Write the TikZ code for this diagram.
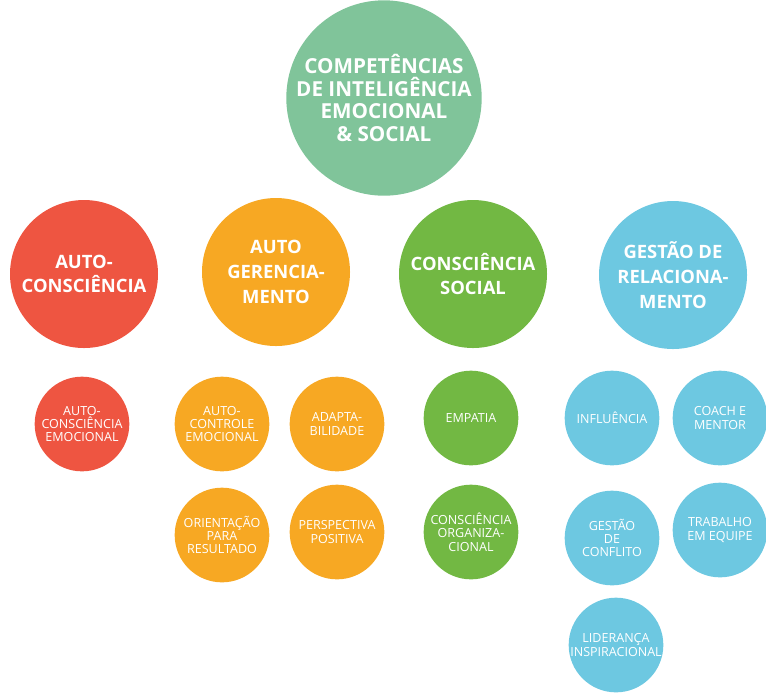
\documentclass[tikz,border=0pt]{standalone}
\usepackage{fontspec}
\setmainfont{Open Sans}
\definecolor{topgreen}{HTML}{80C49A}
\definecolor{compred}{HTML}{EE5541}
\definecolor{comporange}{HTML}{F7A823}
\definecolor{compgreen}{HTML}{72B843}
\definecolor{compblue}{HTML}{6DC8E1}
\tikzset{
  bubble/.style={circle, inner sep=0pt, text=white, align=center},
  topbubble/.style={bubble, fill=topgreen, minimum size=130pt, font=\bfseries\fontsize{15.5}{17}\selectfont},
  bigbubble/.style={bubble, minimum size=111pt, font=\bfseries\fontsize{13.8}{18.5}\selectfont},
  smallbubble/.style={bubble, minimum size=71pt, font=\fontsize{9.4}{10}\selectfont}
}
\begin{document}
\begin{tikzpicture}[x=0.75pt, y=-0.75pt]
  \useasboundingbox (0,0) rectangle (766,694);
  % top
  \node[topbubble] (ie) at (384,98) {COMPETÊNCIAS\\DE INTELIGÊNCIA\\EMOCIONAL\\\& SOCIAL};
  % main groups
  \node[bigbubble, fill=compred] (autoc) at (84,274) {AUTO-\\CONSCIÊNCIA};
  \node[bigbubble, fill=comporange] (autog) at (276,272) {AUTO\\GERENCIA-\\MENTO};
  \node[bigbubble, fill=compgreen] (social) at (473,274) {CONSCIÊNCIA\\SOCIAL};
  \node[bigbubble, fill=compblue] (relac) at (673,275) {GESTÃO DE\\RELACIONA-\\MENTO};
  % competencies
  \node[smallbubble, fill=compred] (emoc) at (82,424) {AUTO-\\CONSCIÊNCIA\\EMOCIONAL};
  \node[smallbubble, fill=comporange] (contr) at (222,424) {AUTO-\\CONTROLE\\EMOCIONAL};
  \node[smallbubble, fill=comporange] (adapt) at (337,424) {ADAPTA-\\BILIDADE};
  \node[smallbubble, fill=comporange] (orient) at (222,535) {ORIENTAÇÃO\\PARA\\RESULTADO};
  \node[smallbubble, fill=comporange] (persp) at (337,532) {PERSPECTIVA\\POSITIVA};
  \node[smallbubble, fill=compgreen] (empat) at (471,418) {EMPATIA};
  \node[smallbubble, fill=compgreen] (organ) at (471,532) {CONSCIÊNCIA\\ORGANIZA-\\CIONAL};
  \node[smallbubble, fill=compblue] (influ) at (612,418) {INFLUÊNCIA};
  \node[smallbubble, fill=compblue] (coach) at (720,418) {COACH E\\MENTOR};
  \node[smallbubble, fill=compblue] (confl) at (612,538) {GESTÃO\\DE\\CONFLITO};
  \node[smallbubble, fill=compblue] (equipe) at (720,530) {TRABALHO\\EM EQUIPE};
  \node[smallbubble, fill=compblue] (lider) at (616,645) {LIDERANÇA\\INSPIRACIONAL};
\end{tikzpicture}
\end{document}
